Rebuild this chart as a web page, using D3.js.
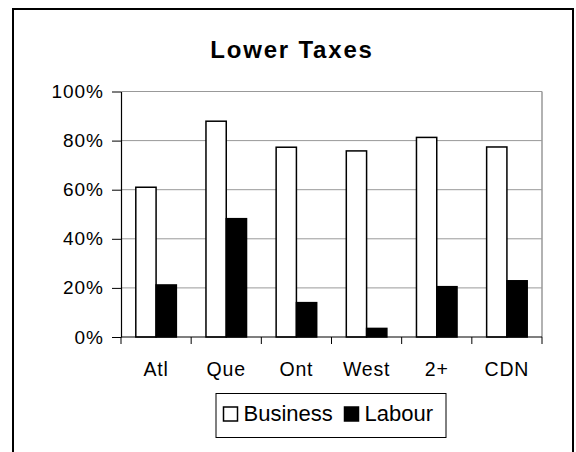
<!DOCTYPE html>
<html>
<head>
<meta charset="utf-8">
<script src="https://cdn.jsdelivr.net/npm/d3@7"></script>
<style>
	body { margin: 0; background: #fff; }
	text { font-family: "Liberation Sans", Arial, sans-serif; fill: #000; }
</style>
</head>
<body>
<svg id="chart" width="576" height="452"></svg>
<script>
// data
const regions = ["Atl", "Que", "Ont", "West", "2+", "CDN"];
const series = ["Business", "Labour"];
const business = [61, 87.9, 77.3, 75.8, 81.3, 77.4];
const labour = [21.2, 48.2, 14, 3.5, 20.5, 22.9];
const yTicks = [0, 20, 40, 60, 80, 100];

const font = "'Liberation Sans', Arial, sans-serif";

// plot area
const margin = {
	top: 91.5,
	right: 34,
	bottom: 115,
	left: 121
};
const width = 576 - margin.left - margin.right;
const height = 452 - margin.top - margin.bottom;

const root = d3.select("#chart");

// outer frame
root.append("rect")
.attr("x", 13)
.attr("y", 9)
.attr("width", 560)
.attr("height", 460)
.attr("fill", "none")
.attr("stroke", "#000")
.attr("stroke-width", 2);

root.append("text")
.attr("x", 292)
.attr("y", 58)
.attr("text-anchor", "middle")
.attr("font-family", font)
.style("font-size", "24px")
.style("font-weight", "bold")
.style("letter-spacing", "1.8px")
.text("Lower Taxes");

const svg = root.append("g")
.attr("transform", "translate(" + margin.left + "," + margin.top + ")");

const x = d3.scaleBand()
.domain(regions)
.range([0, width])
.padding(0);

const xSub = d3.scaleBand()
.domain(series)
.range([0, x.bandwidth()])
.paddingInner(0)
.paddingOuter(0.73);

const y = d3.scaleLinear()
.domain([0, 100])
.range([height, 0]);

// gridlines
svg.selectAll(".grid")
.data(yTicks.filter(d => d > 0))
.enter()
.append("line")
.attr("x1", 0)
.attr("x2", width)
.attr("y1", d => y(d))
.attr("y2", d => y(d))
.attr("stroke", "#999")
.attr("stroke-width", 1);

// right border of plot area
svg.append("line")
.attr("x1", width)
.attr("x2", width)
.attr("y1", 0)
.attr("y2", height)
.attr("stroke", "#999")
.attr("stroke-width", 1.5);

const rows = regions.map((r, i) => ({region: r, Business: business[i], Labour: labour[i]}));

svg.selectAll(".group")
.data(rows)
.enter()
.append("g")
.attr("transform", d => "translate(" + x(d.region) + ",0)")
.selectAll("rect")
.data(d => series.map(s => ({key: s, value: d[s]})))
.enter()
.append("rect")
.attr("x", d => xSub(d.key))
.attr("y", d => y(d.value))
.attr("width", xSub.bandwidth())
.attr("height", d => height - y(d.value))
.attr("fill", d => d.key === "Business" ? "#fff" : "#000")
.attr("stroke", "#000")
.attr("stroke-width", 1.5);

// y axis
const yAxis = svg.append("g")
.call(d3.axisLeft(y).tickValues(yTicks).tickFormat(d => d + "%").tickSize(9).tickSizeOuter(0).tickPadding(8));
yAxis.select(".domain").attr("stroke", "#000").attr("stroke-width", 1.2);
yAxis.selectAll(".tick line").attr("stroke", "#000");
yAxis.selectAll("text")
.attr("font-family", font)
.style("font-size", "19px")
.style("letter-spacing", "1px")
.attr("fill", "#000");

// x axis: ticks sit on the category boundaries
const xAxis = svg.append("g")
.attr("transform", "translate(0," + height + ")");
xAxis.append("line")
.attr("x1", 0)
.attr("x2", width)
.attr("stroke", "#000")
.attr("stroke-width", 1.2);
xAxis.selectAll(".xtick")
.data(regions.concat(["end"]))
.enter()
.append("line")
.attr("x1", (d, i) => i * x.step())
.attr("x2", (d, i) => i * x.step())
.attr("y1", 0)
.attr("y2", 7)
.attr("stroke", "#000");
xAxis.selectAll(".xlabel")
.data(regions)
.enter()
.append("text")
.attr("x", d => x(d) + x.bandwidth() / 2)
.attr("y", 39)
.attr("text-anchor", "middle")
.attr("font-family", font)
.style("font-size", "19.5px")
.style("letter-spacing", "0.8px")
.text(d => d);

// legend
const legend = root.append("g");
legend.append("rect")
.attr("x", 216)
.attr("y", 393.5)
.attr("width", 230)
.attr("height", 44)
.attr("fill", "#fff")
.attr("stroke", "#000")
.attr("stroke-width", 1);

const legendX = [223.5, 344.5];
series.forEach((s, i) => {
	legend.append("rect")
	.attr("x", legendX[i])
	.attr("y", 407)
	.attr("width", 14)
	.attr("height", 14)
	.attr("fill", s === "Business" ? "#fff" : "#000")
	.attr("stroke", "#000")
	.attr("stroke-width", 1.5);

	legend.append("text")
	.attr("x", legendX[i] + 20)
	.attr("y", 421)
	.attr("font-family", font)
	.style("font-size", "22px")
	.text(s);
});
</script>
</body>
</html>
